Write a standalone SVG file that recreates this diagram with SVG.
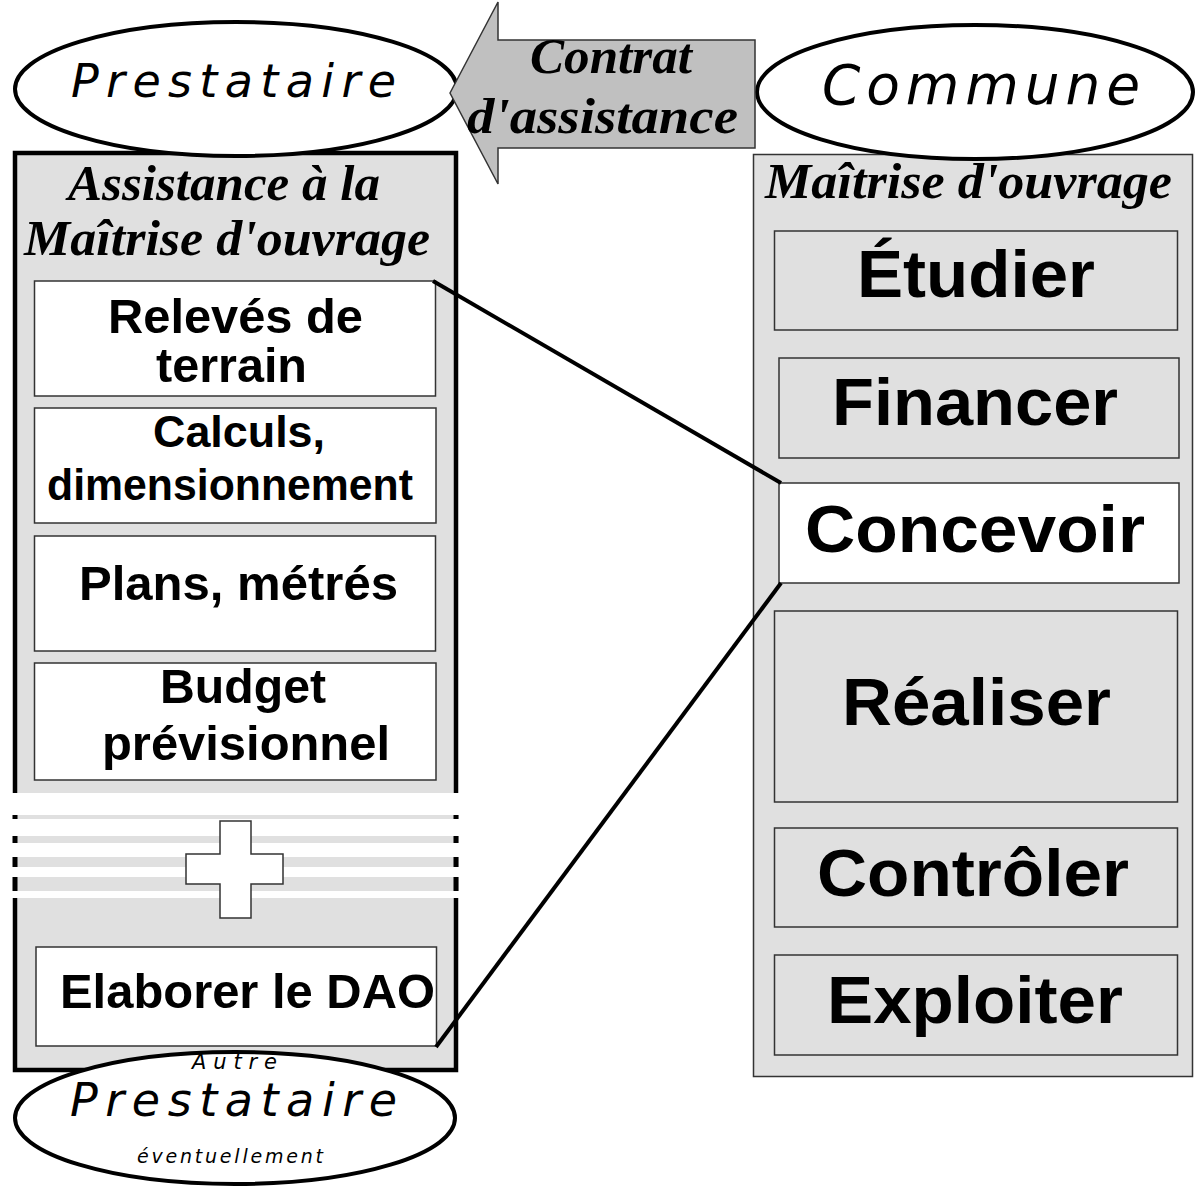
<svg xmlns="http://www.w3.org/2000/svg" width="1195" height="1186" viewBox="0 0 1195 1186">
<style>
.ell{fill:#fff;stroke:#000;stroke-width:4}
.box{stroke:#333;stroke-width:1.5}
.g{fill:#e0e0e0}
.w{fill:#fff}
.oval{font-family:"DejaVu Sans",Verdana,sans-serif;font-style:italic;text-anchor:middle;fill:#000}
.ser{font-family:"Liberation Serif","Times New Roman",serif;font-style:italic;font-weight:bold;font-size:50px;text-anchor:middle;fill:#000}
.big{font-family:"Liberation Sans",Arial,sans-serif;font-weight:bold;font-size:66px;text-anchor:middle;fill:#000}
.mid{font-family:"Liberation Sans",Arial,sans-serif;font-weight:bold;font-size:48px;text-anchor:middle;fill:#000}
.conn{stroke:#000;stroke-width:4;fill:none}
</style>

<g id="panel-moa">
<rect x="753.5" y="154.5" width="439" height="922" class="g box"/>
<text class="ser" x="968.5" y="198" textLength="407" lengthAdjust="spacingAndGlyphs">Maîtrise d'ouvrage</text>
</g>
<g id="etudier"><rect x="774.5" y="231" width="403" height="99" class="g box"/><text class="big" x="976" y="297" textLength="238" lengthAdjust="spacingAndGlyphs">Étudier</text></g>
<g id="financer"><rect x="779" y="358" width="400" height="100" class="g box"/><text class="big" x="975" y="425" textLength="286" lengthAdjust="spacingAndGlyphs">Financer</text></g>
<g id="concevoir"><rect x="779" y="483" width="400" height="100" class="w box"/><text class="big" x="975" y="552" textLength="340" lengthAdjust="spacingAndGlyphs">Concevoir</text></g>
<g id="realiser"><rect x="774.5" y="611" width="403" height="191" class="g box"/><text class="big" x="976.5" y="725" textLength="269" lengthAdjust="spacingAndGlyphs">Réaliser</text></g>
<g id="controler"><rect x="774.5" y="828" width="403" height="99" class="g box"/><text class="big" x="973" y="896" textLength="312" lengthAdjust="spacingAndGlyphs">Contrôler</text></g>
<g id="exploiter"><rect x="774.5" y="955" width="403" height="100" class="g box"/><text class="big" x="975" y="1023" textLength="296" lengthAdjust="spacingAndGlyphs">Exploiter</text></g>

<g id="panel-amo">
<rect x="15" y="153" width="441" height="640" class="g"/>
<path d="M15 793 V153 H456 V793" fill="none" stroke="#000" stroke-width="4.5"/>
<rect x="13" y="815" width="446" height="4" class="g"/>
<rect x="13" y="836" width="446" height="7" class="g"/>
<rect x="13" y="857" width="446" height="10" class="g"/>
<rect x="13" y="877" width="446" height="14" class="g"/>
<g fill="#000">
<rect x="12.5" y="815" width="5" height="4"/><rect x="453.5" y="815" width="5" height="4"/>
<rect x="12.5" y="836" width="5" height="7"/><rect x="453.5" y="836" width="5" height="7"/>
<rect x="12.5" y="857" width="5" height="10"/><rect x="453.5" y="857" width="5" height="10"/>
<rect x="12.5" y="877" width="5" height="14"/><rect x="453.5" y="877" width="5" height="14"/>
</g>
<rect x="15" y="898" width="441" height="172" class="g"/>
<path d="M15 898 V1070 H456 V898" fill="none" stroke="#000" stroke-width="4.5"/>
<text class="ser" x="224" y="200" textLength="312" lengthAdjust="spacingAndGlyphs">Assistance à la</text>
<text class="ser" x="227" y="255" textLength="406" lengthAdjust="spacingAndGlyphs">Maîtrise d'ouvrage</text>
</g>
<g id="releves"><rect x="34.5" y="281" width="401" height="115" class="w box"/>
<text class="mid" x="235.5" y="333" textLength="255" lengthAdjust="spacingAndGlyphs">Relevés de</text>
<text class="mid" x="231.5" y="382" textLength="151" lengthAdjust="spacingAndGlyphs">terrain</text></g>
<g id="calculs"><rect x="34.5" y="408" width="401.5" height="115" class="w box"/>
<text class="mid" x="239" y="447" style="font-size:44px" textLength="172" lengthAdjust="spacingAndGlyphs">Calculs,</text>
<text class="mid" x="230" y="500" style="font-size:44px" textLength="366" lengthAdjust="spacingAndGlyphs">dimensionnement</text></g>
<g id="plans"><rect x="34.5" y="536" width="401" height="115" class="w box"/>
<text class="mid" x="238.5" y="600" textLength="319" lengthAdjust="spacingAndGlyphs">Plans, métrés</text></g>
<g id="budget"><rect x="34.5" y="663" width="401.5" height="117" class="w box"/>
<text class="mid" x="243" y="703" textLength="166" lengthAdjust="spacingAndGlyphs">Budget</text>
<text class="mid" x="246" y="760" textLength="288" lengthAdjust="spacingAndGlyphs">prévisionnel</text></g>
<g id="plus"><polygon points="220,821 251,821 251,854 283,854 283,884 251,884 251,918 220,918 220,884 186,884 186,854 220,854" class="w box"/></g>
<g id="dao"><rect x="36" y="947" width="400.5" height="99" class="w box"/>
<text class="mid" x="247.5" y="1008" textLength="375" lengthAdjust="spacingAndGlyphs">Elaborer le DAO</text></g>

<g id="prestataire">
<ellipse cx="236" cy="89" rx="221" ry="67" class="ell"/>
<text class="oval" x="233.5" y="97" style="font-size:46px" textLength="325" lengthAdjust="spacing">Prestataire</text>
</g>
<g id="commune">
<ellipse cx="975" cy="92" rx="218" ry="67" class="ell"/>
<text class="oval" x="981" y="104" style="font-size:55px" textLength="318" lengthAdjust="spacing">Commune</text>
</g>
<g id="contrat">
<polygon points="450,93 498,2 498,40 755,40 755,148 498,148 498,184" fill="#c0c0c0" stroke="#333" stroke-width="1.5"/>
<text class="ser" x="611" y="73" textLength="162" lengthAdjust="spacingAndGlyphs">Contrat</text>
<text class="ser" x="602.5" y="133" textLength="271" lengthAdjust="spacingAndGlyphs">d'assistance</text>
</g>
<g id="autre-prestataire">
<ellipse cx="235" cy="1118" rx="220" ry="66" class="ell"/>
<text class="oval" x="234.5" y="1069" style="font-size:21px" textLength="85" lengthAdjust="spacing">Autre</text>
<text class="oval" x="233.5" y="1116" style="font-size:46px" textLength="327" lengthAdjust="spacing">Prestataire</text>
<text class="oval" x="230" y="1163" style="font-size:19px" textLength="186" lengthAdjust="spacing">éventuellement</text>
</g>

<g id="connectors">
<line x1="433" y1="281" x2="781" y2="483" class="conn"/>
<line x1="781" y1="583" x2="436" y2="1047" class="conn"/>
</g>
</svg>
